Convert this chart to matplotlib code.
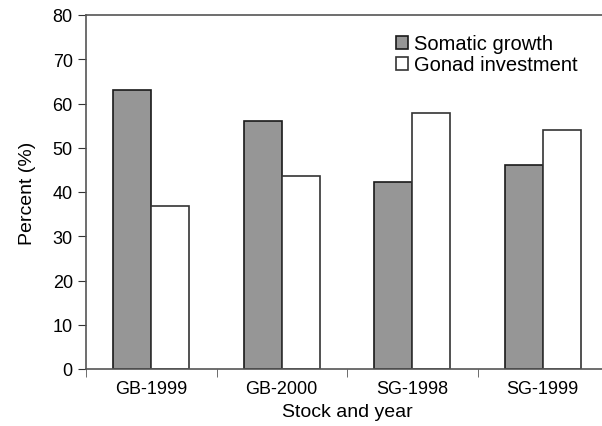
import matplotlib
matplotlib.use("Agg")
import matplotlib.pyplot as plt
import numpy as np

plt.rcParams["font.family"] = ["Liberation Sans", "DejaVu Sans"]

categories = ["GB-1999", "GB-2000", "SG-1998", "SG-1999"]
somatic = [63.1, 56.1, 42.2, 46.1]
gonad = [36.8, 43.7, 57.8, 54.0]

fig = plt.figure(figsize=(6.02, 4.27), dpi=100)
# axes run slightly past the right edge of the picture, as in the original
ax = fig.add_axes([86 / 602, 1 - 370 / 427, 522 / 602, 354 / 427])

x = np.arange(len(categories))
w = 0.29
ax.bar(x - w / 2, somatic, w, color="#969696", edgecolor="#1a1a1a", linewidth=1.2,
       label="Somatic growth")
ax.bar(x + w / 2, gonad, w, color="white", edgecolor="#333333", linewidth=1.2,
       label="Gonad investment")

ax.set_xlim(-0.5, len(categories) - 0.5)
ax.set_ylim(0, 80)
ax.set_yticks(range(0, 81, 10))
ax.set_xticks(x)
ax.set_xticklabels(categories, fontsize=13)
ax.set_xticks(np.arange(-0.5, len(categories), 1), minor=True)
ax.tick_params(axis="x", which="major", length=0, pad=8)
ax.tick_params(axis="x", which="minor", length=6, direction="out", color="#555555")
ax.tick_params(axis="y", length=6, direction="out", labelsize=13, color="#333333")

for s in ["left", "bottom", "top"]:
    ax.spines[s].set_color("#555555")
    ax.spines[s].set_linewidth(1.2)
ax.spines["right"].set_visible(False)

ax.set_ylabel("Percent (%)", fontsize=14, labelpad=12)
ax.set_xlabel("Stock and year", fontsize=14, labelpad=4)

ax.legend(loc="upper left", bbox_to_anchor=(0.578, 0.968), frameon=False, fontsize=14.5,
          handlelength=0.6, handleheight=0.6, handletextpad=0.3, labelspacing=0.1,
          borderaxespad=0)

fig.savefig("out.png", dpi=100)
